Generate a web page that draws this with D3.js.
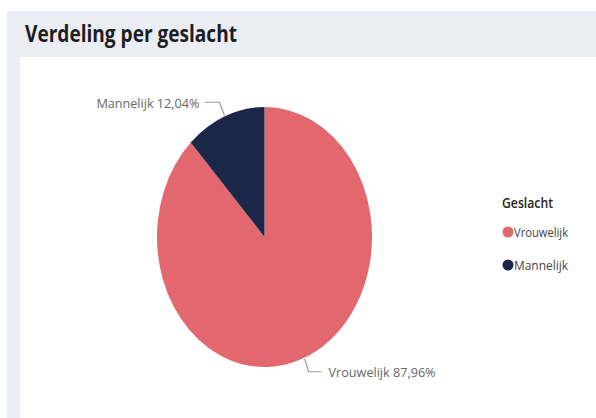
<!DOCTYPE html>
<html><head><meta charset="utf-8">
<script src="https://cdn.jsdelivr.net/npm/d3@7"></script>
<style>html,body{margin:0;padding:0;background:#fff;overflow:hidden}</style>
</head><body>
<svg id="chart" width="596" height="418"></svg>
<script>
const title = "Verdeling per geslacht";
const legendTitle = "Geslacht";
const categories = ["Vrouwelijk", "Mannelijk"];
const shares = [87.96, 12.04];
const labelTexts = ["Vrouwelijk 87,96%", "Mannelijk 12,04%"];
const colors = ["#E2676F", "#1B2749"];

const svg = d3.select("#chart");
const font = "'Open Sans', 'Segoe UI', sans-serif";

// panel background
svg.append("rect").attr("x", 7).attr("y", 11).attr("width", 589).attr("height", 407).attr("fill", "#EBEDF5");
svg.append("rect").attr("x", 20).attr("y", 57).attr("width", 576).attr("height", 361).attr("fill", "#FFFFFF");

svg.append("text").attr("x", 25).attr("y", 42)
  .attr("font-family", font).attr("font-weight", 700).attr("font-size", 23.5)
  .attr("fill", "#1d1d1d").attr("textLength", 212).attr("lengthAdjust", "spacingAndGlyphs")
  .text(title);

// pie (reference is vertically stretched -> ellipse)
const cx = 264.5, cy = 237, rx = 107.5, ry = 130;
const sy = ry / rx;
const pie = d3.pie().sort(null).value(d => d);
const arcs = pie(shares);
const arc = d3.arc().innerRadius(0).outerRadius(rx);

const g = svg.append("g").attr("transform", `translate(${cx},${cy}) scale(1,${sy})`);
g.selectAll("path").data(arcs).join("path")
  .attr("d", arc).attr("fill", (d, i) => colors[i]);

// labels with leader lines
const lblG = svg.append("g");
arcs.forEach((a, i) => {
  const mid = (a.startAngle + a.endAngle) / 2;
  const ex = cx + Math.sin(mid) * (rx + 1);
  const ey = cy - Math.cos(mid) * (ry + 1);
  const right = Math.sin(mid) > 0;
  const ky = ey + (Math.cos(mid) > 0 ? -13 : 13);
  const kx = ex + (right ? 4 : -5);
  const hx = kx + (right ? 13 : -15);
  lblG.append("polyline")
    .attr("points", [[ex, ey], [kx, ky], [hx, ky]].map(p => p.join(",")).join(" "))
    .attr("fill", "none").attr("stroke", "#9a9a9a").attr("stroke-width", 1.2);
  lblG.append("text")
    .attr("x", right ? hx + 7 : hx - 5).attr("y", ky + 5.5)
    .attr("text-anchor", right ? "start" : "end")
    .attr("font-family", font).attr("font-size", 13.5).attr("fill", "#666666")
    .attr("textLength", right ? 107 : 103).attr("lengthAdjust", "spacingAndGlyphs")
    .text(labelTexts[i]);
});

// legend
const lg = svg.append("g");
lg.append("text").attr("x", 502).attr("y", 208)
  .attr("font-family", font).attr("font-weight", 600).attr("font-size", 13.5)
  .attr("fill", "#252423").attr("textLength", 51).attr("lengthAdjust", "spacingAndGlyphs")
  .text(legendTitle);
const ly = d3.scalePoint().domain(categories).range([232, 265]);
categories.forEach((c, i) => {
  lg.append("circle").attr("cx", 508).attr("cy", ly(c)).attr("r", 5.5).attr("fill", colors[i]);
  lg.append("text").attr("x", 514).attr("y", ly(c) + 5)
    .attr("font-family", font).attr("font-size", 13.5).attr("fill", "#444444")
    .attr("textLength", 54).attr("lengthAdjust", "spacingAndGlyphs")
    .text(c);
});
</script>
</body></html>
